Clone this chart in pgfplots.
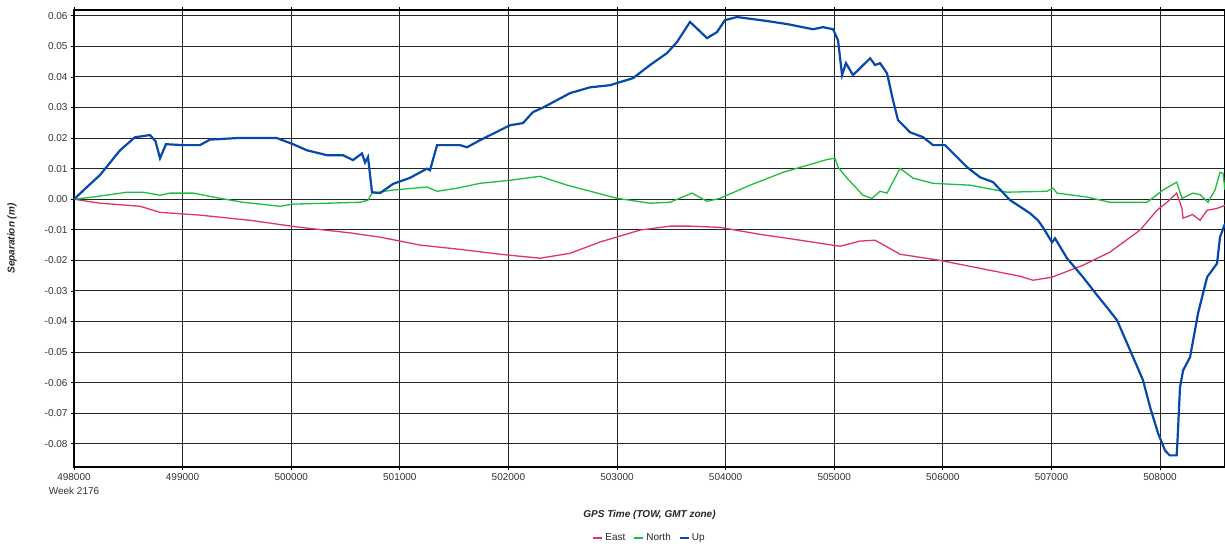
\documentclass[border=0pt]{standalone}
\usepackage{fontspec}
\setmainfont{Liberation Sans}
\usepackage{pgfplots}
\pgfplotsset{compat=1.18}

\definecolor{eastc}{RGB}{226,52,100}
\definecolor{northc}{RGB}{28,190,64}
\definecolor{upc}{RGB}{6,72,172}

\begin{document}
\begin{tikzpicture}
\begin{axis}[
  scale only axis,
  width=1151pt, height=457pt,
  xmin=498000, xmax=508598,
  ymin=-0.0876, ymax=0.0619,
  xtick={498000,499000,...,508000},
  xticklabels={{498000\\Week 2176},499000,500000,501000,502000,503000,504000,505000,506000,507000,508000},
  scaled x ticks=false,
  xticklabel style={align=center, text=black!80, font=\fontsize{10}{14}\selectfont},
  ytick={-0.08,-0.07,...,0.061},
  scaled y ticks=false,
  yticklabel style={text=black!80, font=\fontsize{10}{12}\selectfont,
    /pgf/number format/.cd, fixed, fixed zerofill, precision=2},
  /pgf/number format/assume math mode=true,
  tick align=outside,
  major tick length=3pt,
  tick style={black, line width=0.8pt},
  xmajorgrids, ymajorgrids,
  major grid style={black!85, line width=0.9pt},
  axis line style={black, line width=1.2pt},
  xlabel={\textbf{\textit{GPS Time (TOW, GMT zone)}}},
  ylabel={\textbf{\textit{Separation (m)}}},
  every axis x label/.style={at={([yshift=-48pt]axis description cs:0.5,0)}, anchor=center, font=\fontsize{10}{12}\selectfont, text=black!85},
  every axis y label/.style={at={([xshift=-62pt]axis description cs:0,0.5)}, rotate=90, anchor=center, font=\fontsize{10}{12}\selectfont, text=black!85},
  legend style={at={([yshift=-71pt]axis description cs:0.5,0)}, anchor=center, draw=none, fill=none,
    font=\fontsize{10}{12}\selectfont, text=black!85, legend columns=3,
    /tikz/every even column/.append style={column sep=6pt}},
  legend image code/.code={\draw[#1, line width=2pt] (0pt,0pt) -- (9pt,0pt);},
  clip=true,
]
% East
\addplot[eastc, line width=1.3pt] coordinates {
(498000,0) (498239,-0.0013) (498608,-0.0023) (498792,-0.0043) (499160,-0.0052)
(499621,-0.0069) (500081,-0.0092) (500541,-0.011) (500818,-0.0124) (501186,-0.015)
(501554,-0.0164) (501923,-0.018) (502291,-0.0193) (502567,-0.0177) (502844,-0.014)
(503212,-0.0101) (503488,-0.0088) (503672,-0.0088) (503948,-0.0092) (504317,-0.0115)
(504685,-0.0134) (505053,-0.0154) (505237,-0.0137) (505376,-0.0134) (505606,-0.018)
(505974,-0.02) (506342,-0.0226) (506711,-0.0252) (506831,-0.0265) (507005,-0.0255)
(507291,-0.0216) (507539,-0.0173) (507816,-0.0101) (507972,-0.0036) (508064,-0.001)
(508153,0.002) (508202,-0.003) (508212,-0.0062) (508300,-0.005) (508368,-0.0069)
(508433,-0.0036) (508525,-0.003) (508598,-0.002)
};
\addlegendentry{East}
% North
\addplot[northc, line width=1.3pt] coordinates {
(498000,0) (498175,0.0007) (498488,0.0023) (498635,0.0023) (498792,0.0013)
(498884,0.002) (499096,0.002) (499344,0.0003) (499556,-0.001) (499897,-0.0023)
(500017,-0.0016) (500330,-0.0013) (500634,-0.001) (500707,-0.0003) (500744,0.002)
(500937,0.003) (501250,0.004) (501343,0.0026) (501527,0.0036) (501738,0.0052)
(502015,0.0062) (502291,0.0075) (502540,0.0046) (503000,0.0003) (503304,-0.0013)
(503488,-0.001) (503690,0.002) (503829,-0.0007) (503948,0.0003) (504225,0.0046)
(504529,0.0088) (504750,0.0111) (504934,0.013) (505007,0.0134) (505035,0.0105)
(505118,0.0069) (505265,0.0013) (505348,0.0003) (505422,0.0026) (505486,0.002)
(505606,0.0101) (505726,0.0069) (505910,0.0052) (506250,0.0046) (506591,0.0023)
(506959,0.0026) (507015,0.0036) (507051,0.002) (507328,0.0007) (507539,-0.001)
(507880,-0.001) (508027,0.003) (508153,0.0056) (508202,0.0003) (508304,0.002)
(508368,0.0015) (508442,-0.001) (508506,0.003) (508552,0.0088) (508580,0.0085)
(508598,0.003)
};
\addlegendentry{North}
% Up
\addplot[upc, line width=2.2pt] coordinates {
(498000,0) (498120,0.004) (498239,0.0079) (498424,0.016) (498562,0.0203) (498608,0.0205)
(498700,0.021) (498750,0.019) (498792,0.0134) (498847,0.018) (499004,0.0177)
(499160,0.0177) (499252,0.0195) (499500,0.020) (499869,0.020) (500017,0.018)
(500145,0.016) (500330,0.0144) (500477,0.0144) (500569,0.0128) (500652,0.015)
(500680,0.012) (500707,0.0138) (500744,0.0023) (500818,0.002) (500937,0.005)
(501094,0.007) (501250,0.010) (501278,0.0095) (501343,0.0177) (501554,0.0177)
(501619,0.017) (501738,0.0193) (502015,0.0242) (502134,0.0249) (502226,0.0285)
(502319,0.030) (502567,0.0347) (502751,0.0366) (502935,0.0373) (503147,0.0396)
(503304,0.0439) (503460,0.0478) (503552,0.0514) (503672,0.058) (503829,0.0527)
(503921,0.0547) (503994,0.0586) (504105,0.0596) (504381,0.0583) (504565,0.0573)
(504805,0.0556) (504897,0.0563) (504989,0.0556) (505035,0.052) (505072,0.0406)
(505108,0.0445) (505173,0.0406) (505330,0.0461) (505376,0.0439) (505422,0.0445)
(505486,0.0412) (505541,0.0324) (505587,0.0259) (505698,0.0219) (505818,0.0203)
(505910,0.0177) (506020,0.0177) (506223,0.0105) (506342,0.0072) (506462,0.0056)
(506619,-0.0003) (506803,-0.0046) (506876,-0.0069) (506922,-0.0092) (507005,-0.0141)
(507033,-0.0128) (507143,-0.0193) (507291,-0.0255) (507420,-0.0314) (507512,-0.0354)
(507604,-0.0396) (507724,-0.0494) (507843,-0.0592) (507908,-0.068) (507982,-0.0766)
(508046,-0.0822) (508089,-0.0838) (508153,-0.0838) (508162,-0.0779) (508184,-0.0615)
(508212,-0.056) (508276,-0.0517) (508350,-0.0373) (508433,-0.0255) (508525,-0.021)
(508552,-0.0124) (508598,-0.008)
};
\addlegendentry{Up}
\draw[black, line width=1pt] ([xshift=-1.5pt]rel axis cs:0,0) -- ([xshift=-1.5pt,yshift=7pt]rel axis cs:0,1) -- ([yshift=7pt]rel axis cs:1,1);
\end{axis}
\pgfresetboundingbox
\path (-74pt,-79pt) rectangle (1151pt,467pt);
\end{tikzpicture}
\end{document}
